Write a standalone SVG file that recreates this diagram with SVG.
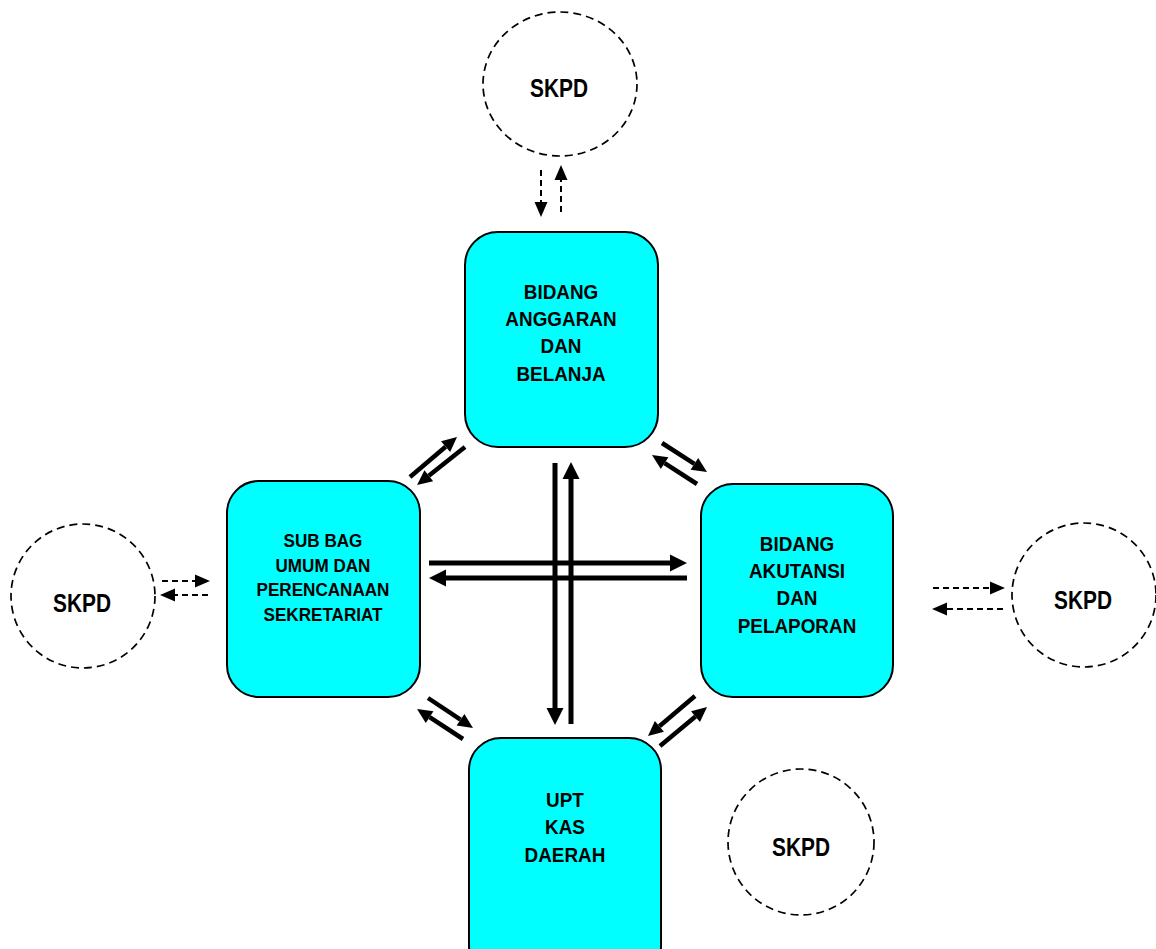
<svg xmlns="http://www.w3.org/2000/svg" width="1156" height="949" viewBox="0 0 1156 949">
<style>
.box{fill:#00FFFF;stroke:#000;stroke-width:2}
.circ{fill:none;stroke:#000;stroke-width:1.7;stroke-dasharray:8 5}
.t{font-family:"Liberation Sans",Arial,sans-serif;font-weight:bold;font-size:21px;fill:#000;text-anchor:middle}
.ts{font-size:19px}
.sk{font-family:"Liberation Sans",Arial,sans-serif;font-weight:bold;font-size:26px;fill:#000;text-anchor:middle}
.thick{stroke:#000;stroke-width:5;fill:none}
.diag{stroke:#000;stroke-width:4.5;fill:none}
.dash{stroke:#000;stroke-width:2;fill:none;stroke-dasharray:6 4}
</style>
<defs>
<marker id="big" markerUnits="userSpaceOnUse" markerWidth="17" markerHeight="17" refX="0" refY="8.5" orient="auto" overflow="visible"><path d="M0,0 L17,8.5 L0,17 z" fill="#000"/></marker>
<marker id="mid" markerUnits="userSpaceOnUse" markerWidth="15" markerHeight="14" refX="0" refY="7" orient="auto" overflow="visible"><path d="M0,0 L15,7 L0,14 z" fill="#000"/></marker>
<marker id="sm" markerUnits="userSpaceOnUse" markerWidth="15" markerHeight="13" refX="0" refY="6.5" orient="auto" overflow="visible"><path d="M0,0 L15,6.5 L0,13 z" fill="#000"/></marker>
</defs>
<rect width="1156" height="949" fill="#fff"/>

<g id="skpd-top"><ellipse class="circ" cx="560" cy="84" rx="77" ry="72"/><text class="sk" x="559" y="97" textLength="58" lengthAdjust="spacingAndGlyphs">SKPD</text></g>
<g id="skpd-left"><circle class="circ" cx="83" cy="596" r="72"/><text class="sk" x="82" y="612" textLength="58" lengthAdjust="spacingAndGlyphs">SKPD</text></g>
<g id="skpd-right"><circle class="circ" cx="1084" cy="595" r="72"/><text class="sk" x="1083" y="609" textLength="58" lengthAdjust="spacingAndGlyphs">SKPD</text></g>
<g id="skpd-bottom"><circle class="circ" cx="801" cy="842" r="73"/><text class="sk" x="801" y="856" textLength="58" lengthAdjust="spacingAndGlyphs">SKPD</text></g>

<g id="bidang-anggaran"><rect class="box" x="465" y="232" width="193" height="215" rx="33" ry="33"/>
<text class="t" transform="translate(561,0) scale(0.9,1)"><tspan x="0" y="299">BIDANG</tspan><tspan x="0" y="326">ANGGARAN</tspan><tspan x="0" y="353">DAN</tspan><tspan x="0" y="381">BELANJA</tspan></text></g>
<g id="sub-bag"><rect class="box" x="227" y="481" width="193" height="216" rx="32" ry="32"/>
<text class="t ts" transform="translate(323,0) scale(0.9,1)"><tspan x="0" y="547">SUB BAG</tspan><tspan x="0" y="572">UMUM DAN</tspan><tspan x="0" y="596">PERENCANAAN</tspan><tspan x="0" y="621">SEKRETARIAT</tspan></text></g>
<g id="bidang-akutansi"><rect class="box" x="701" y="484" width="192" height="213" rx="32" ry="32"/>
<text class="t" transform="translate(797,0) scale(0.9,1)"><tspan x="0" y="551">BIDANG</tspan><tspan x="0" y="578">AKUTANSI</tspan><tspan x="0" y="605">DAN</tspan><tspan x="0" y="633">PELAPORAN</tspan></text></g>
<g id="upt-kas"><rect class="box" x="469" y="738" width="192" height="240" rx="32" ry="32"/>
<text class="t" transform="translate(565,0) scale(0.9,1)"><tspan x="0" y="807">UPT</tspan><tspan x="0" y="834">KAS</tspan><tspan x="0" y="862">DAERAH</tspan></text></g>

<g id="connectors">
<line class="thick" x1="429" y1="563" x2="670" y2="563" marker-end="url(#big)"/>
<line class="thick" x1="687" y1="578" x2="446" y2="578" marker-end="url(#big)"/>
<line class="thick" x1="555" y1="463" x2="555" y2="708" marker-end="url(#big)"/>
<line class="thick" x1="571" y1="724" x2="571" y2="479" marker-end="url(#big)"/>

<line class="diag" x1="410" y1="477" x2="445.6" y2="446.7" marker-end="url(#mid)"/>
<line class="diag" x1="465" y1="447" x2="428.8" y2="475.7" marker-end="url(#mid)"/>
<line class="diag" x1="662" y1="443" x2="694.4" y2="463.9" marker-end="url(#mid)"/>
<line class="diag" x1="697" y1="484" x2="664.6" y2="463.1" marker-end="url(#mid)"/>
<line class="diag" x1="428" y1="698" x2="460.5" y2="719.7" marker-end="url(#mid)"/>
<line class="diag" x1="463" y1="739" x2="429.6" y2="717.2" marker-end="url(#mid)"/>
<line class="diag" x1="695" y1="696" x2="659.4" y2="726.3" marker-end="url(#mid)"/>
<line class="diag" x1="660" y1="746" x2="695.5" y2="716.6" marker-end="url(#mid)"/>

<line class="dash" x1="541" y1="170" x2="541" y2="202" marker-end="url(#sm)"/>
<line class="dash" x1="561" y1="212" x2="561" y2="180" marker-end="url(#sm)"/>
<line class="dash" x1="162" y1="581" x2="195" y2="581" marker-end="url(#sm)"/>
<line class="dash" x1="208" y1="595" x2="175" y2="595" marker-end="url(#sm)"/>
<line class="dash" x1="933" y1="588" x2="990" y2="588" marker-end="url(#sm)"/>
<line class="dash" x1="1003" y1="609" x2="947" y2="609" marker-end="url(#sm)"/>
</g>
</svg>
